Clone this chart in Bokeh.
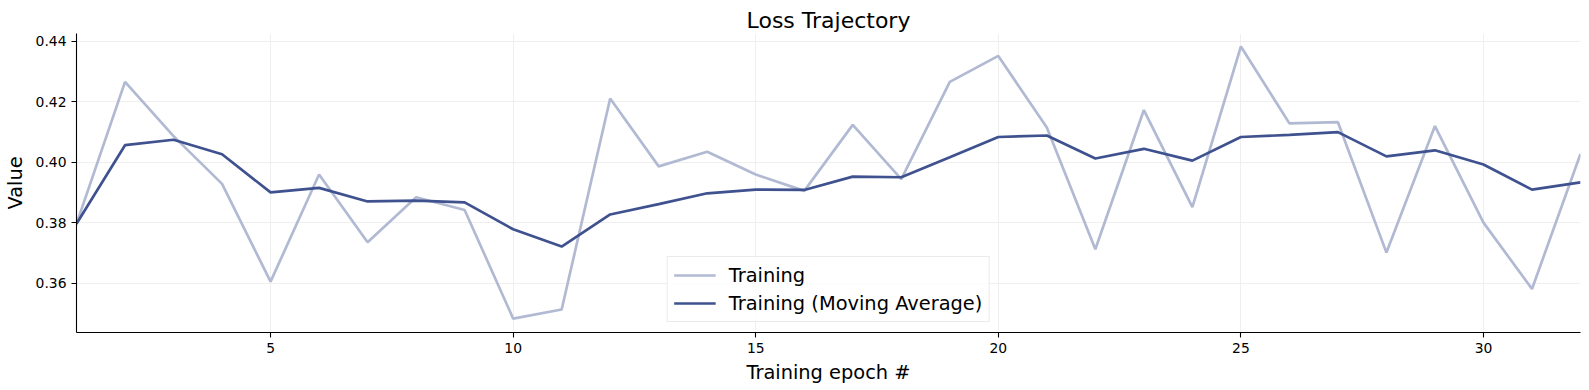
from bokeh.plotting import figure
from bokeh.models import Range1d, FixedTicker, Legend, LegendItem, ColumnDataSource, PrintfTickFormatter
from bokeh.embed import file_html
from bokeh.resources import INLINE

epochs = list(range(1, 33))
training = [0.3797, 0.4266, 0.4087, 0.3929, 0.3606, 0.3960, 0.3736, 0.3885,
            0.3843, 0.3484, 0.3514, 0.4211, 0.3987, 0.4035, 0.3960, 0.3906,
            0.4124, 0.3945, 0.4266, 0.4352, 0.4115, 0.3713, 0.4173, 0.3852,
            0.4383, 0.4129, 0.4133, 0.3702, 0.4120, 0.3801, 0.3582, 0.4028]
moving_avg = [0.3797, 0.4057, 0.4075, 0.4027, 0.3901, 0.3916, 0.3871, 0.3874,
              0.3868, 0.3779, 0.3722, 0.3828, 0.3862, 0.3898, 0.3910, 0.3909,
              0.3953, 0.3951, 0.4017, 0.4084, 0.4089, 0.4013, 0.4045, 0.4006,
              0.4084, 0.4091, 0.4100, 0.4020, 0.4040, 0.3993, 0.3910, 0.3934]
x_ticks = [5, 10, 15, 20, 25, 30]
y_ticks = [0.36, 0.38, 0.40, 0.42, 0.44]

FONT = "DejaVu Sans"
DARK = "#3f528f"
LIGHT = "#b2bad3"

p = figure(width=1581, height=386, output_backend="svg", toolbar_location=None,
           x_range=Range1d(1, 32), y_range=Range1d(0.3438, 0.4426),
           min_border_left=75, min_border_right=1, min_border_top=33, min_border_bottom=50,
           title="Loss Trajectory")
p.title.text_font = FONT
p.title.text_font_size = "22px"
p.title.text_font_style = "normal"
p.title.align = "center"
p.title.text_color = "black"
p.title.standoff = 2

src = ColumnDataSource(dict(x=epochs, t=training, m=moving_avg))
r1 = p.line("x", "t", source=src, line_color=LIGHT, line_width=2.7)
r2 = p.line("x", "m", source=src, line_color=DARK, line_width=2.7)

p.outline_line_color = None
for ax in (p.xaxis[0], p.yaxis[0]):
    ax.major_label_text_font = FONT
    ax.major_label_text_font_size = "13.9px"
    ax.major_label_text_color = "black"
    ax.axis_label_text_font = FONT
    ax.axis_label_text_font_size = "19.4px"
    ax.axis_label_text_font_style = "normal"
    ax.axis_label_text_color = "black"
    ax.axis_line_color = "black"
    ax.axis_line_width = 1.1
    ax.major_tick_line_color = "black"
    ax.major_tick_line_width = 1.1
    ax.major_tick_out = 5
    ax.major_tick_in = 0
    ax.minor_tick_line_color = None
    ax.major_label_standoff = 5

p.xaxis[0].ticker = FixedTicker(ticks=x_ticks)
p.yaxis[0].ticker = FixedTicker(ticks=y_ticks)
p.yaxis[0].formatter = PrintfTickFormatter(format="%.2f")
p.xaxis[0].axis_label = "Training epoch #"
p.yaxis[0].axis_label = "Value"
p.xaxis[0].axis_label_standoff = 5
p.yaxis[0].axis_label_standoff = 6
p.yaxis[0].major_label_orientation = "horizontal"

p.xgrid.grid_line_color = "#ebebeb"
p.ygrid.grid_line_color = "#ebebeb"
p.xgrid.grid_line_width = 0.8
p.ygrid.grid_line_width = 0.8

legend = Legend(items=[LegendItem(label="Training", renderers=[r1]),
                       LegendItem(label="Training (Moving Average)", renderers=[r2])],
                location="bottom_center")
legend.label_text_font = FONT
legend.label_text_font_size = "19.4px"
legend.label_text_color = "black"
legend.glyph_width = 42
legend.glyph_height = 24
legend.label_height = 24
legend.spacing = 4
legend.padding = 6
legend.margin = 10
legend.border_line_color = "#d5d5d5"
legend.border_line_width = 1
legend.background_fill_alpha = 0.8
legend.label_standoff = 13
p.add_layout(legend, "center")

open("out.html", "w").write(file_html(p, INLINE))
